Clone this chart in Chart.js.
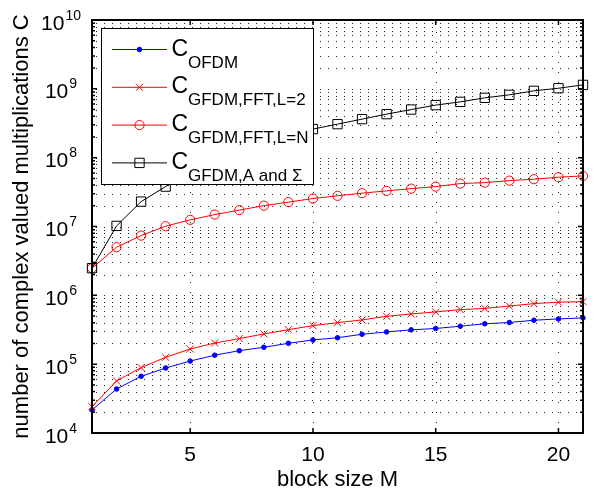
<!DOCTYPE html>
<html>
<head>
<meta charset="utf-8">
<script src="https://cdn.jsdelivr.net/npm/chart.js@4.4.1/dist/chart.umd.min.js"></script>
<style>
  html, body { margin: 0; padding: 0; background: #fff; }
</style>
</head>
<body>
<canvas id="c" width="596" height="490"></canvas>
<script>
// values
const blockSize = [1, 2, 3, 4, 5, 6, 7, 8, 9, 10, 11, 12, 13, 14, 15, 16, 17, 18, 19, 20, 21];
const cOfdm = [2.16e4, 4.36e4, 6.67e4, 8.8e4, 1.11e5, 1.35e5, 1.57e5, 1.76e5, 2.01e5, 2.25e5, 2.42e5,
  2.72e5, 2.94e5, 3.15e5, 3.3e5, 3.56e5, 3.86e5, 4.03e5, 4.35e5, 4.54e5, 4.7e5];
const cGfdmL2 = [2.41e4, 5.7e4, 8.9e4, 1.26e5, 1.66e5, 2.03e5, 2.35e5, 2.75e5, 3.17e5, 3.63e5, 4.01e5,
  4.39e5, 4.96e5, 5.37e5, 5.74e5, 6.2e5, 6.45e5, 7.0e5, 7.58e5, 7.95e5, 8.1e5];
const cGfdmLN = [2.48e6, 5.0e6, 7.38e6, 1.01e7, 1.25e7, 1.49e7, 1.73e7, 2.01e7, 2.26e7, 2.55e7, 2.79e7,
  3.05e7, 3.29e7, 3.55e7, 3.8e7, 4.2e7, 4.34e7, 4.64e7, 4.86e7, 5.2e7, 5.43e7];
const cGfdmA = [2.48e6, 1.02e7, 2.3e7, 3.8e7, 6.2e7, 9.0e7, 1.22e8, 1.6e8, 2.02e8, 2.6e8, 3.07e8,
  3.63e8, 4.29e8, 5.0e8, 5.8e8, 6.47e8, 7.4e8, 8.18e8, 9.35e8, 1.02e9, 1.14e9];

const xTicks = [5, 10, 15, 20];
const yTicks = [1e4, 1e5, 1e6, 1e7, 1e8, 1e9, 1e10];
const yExponents = ['4', '5', '6', '7', '8', '9', '10'];
const legendSubs = ['OFDM', 'GFDM,FFT,L=2', 'GFDM,FFT,L=N', 'GFDM,A and \u03A3'];

const FONT = '"Liberation Sans", Arial, Helvetica, sans-serif';

function pts(ys) {
  return blockSize.map((m, i) => ({ x: m, y: ys[i] }));
}

// grid, frame, ticks, labels, legend
const matlabAxes = {
  id: 'matlabAxes',
  beforeDatasetsDraw(chart) {
    const { ctx, chartArea: a, scales: { x, y } } = chart;
    ctx.save();
    ctx.strokeStyle = 'rgba(0,0,0,0.85)';
    ctx.lineWidth = 1;
    // horizontal log grid (decades + minors)
    ctx.setLineDash([1, 7]);
    for (let d = 0; d < yTicks.length - 1; d++) {
      for (let k = 1; k <= 9; k++) {
        const py = Math.round(y.getPixelForValue(yTicks[d] * k)) + 0.5;
        if (d === 0 && k === 1) continue;
        ctx.beginPath();
        ctx.moveTo(a.left + 4, py);
        ctx.lineTo(a.right, py);
        ctx.stroke();
      }
    }
    // vertical grid
    ctx.setLineDash([1, 9]);
    xTicks.forEach(v => {
      const px = Math.round(x.getPixelForValue(v)) + 0.5;
      ctx.beginPath();
      ctx.moveTo(px, a.bottom);
      ctx.lineTo(px, a.top);
      ctx.stroke();
    });
    ctx.restore();
  },
  afterDatasetsDraw(chart) {
    const { ctx, chartArea: a, scales: { x, y } } = chart;
    ctx.save();
    ctx.strokeStyle = '#000';
    // inward ticks
    ctx.lineWidth = 1.5;
    xTicks.forEach(v => {
      const px = x.getPixelForValue(v);
      ctx.beginPath();
      ctx.moveTo(px, a.bottom); ctx.lineTo(px, a.bottom - 5);
      ctx.moveTo(px, a.top); ctx.lineTo(px, a.top + 5);
      ctx.stroke();
    });
    for (let d = 0; d < yTicks.length; d++) {
      for (let k = 1; k <= 9; k++) {
        if (d === yTicks.length - 1 && k > 1) break;
        const py = y.getPixelForValue(yTicks[d] * k);
        const len = k === 1 ? 5 : 3;
        ctx.beginPath();
        ctx.moveTo(a.left, py); ctx.lineTo(a.left + len, py);
        ctx.moveTo(a.right, py); ctx.lineTo(a.right - len, py);
        ctx.stroke();
      }
    }
    // box
    ctx.lineWidth = 2;
    ctx.strokeRect(a.left, a.top, a.right - a.left, a.bottom - a.top);

    // tick labels
    ctx.fillStyle = '#000';
    ctx.textBaseline = 'alphabetic';
    ctx.textAlign = 'center';
    ctx.font = '21px ' + FONT;
    xTicks.forEach(v => {
      ctx.fillText(String(v), x.getPixelForValue(v), a.bottom + 28);
    });
    yTicks.forEach((v, i) => {
      const py = y.getPixelForValue(v);
      ctx.font = '21px ' + FONT;
      const wBase = ctx.measureText('10').width;
      ctx.font = '14px ' + FONT;
      const wExp = ctx.measureText(yExponents[i]).width;
      const left = 61 - (wBase + 1 + wExp) / 2;
      ctx.textAlign = 'left';
      ctx.font = '21px ' + FONT;
      ctx.fillText('10', left, py + 9.5);
      ctx.font = '14px ' + FONT;
      ctx.fillText(yExponents[i], left + wBase + 1, py - 0.5);
    });

    // axis titles
    ctx.font = '22px ' + FONT;
    ctx.textAlign = 'center';
    ctx.fillText('block size M', (a.left + a.right) / 2, 486);
    ctx.save();
    ctx.translate(27.5, (a.top + a.bottom) / 2);
    ctx.rotate(-Math.PI / 2);
    ctx.fillText('number of complex valued multiplications C', 0, 0);
    ctx.restore();

    // legend
    const bx = 101.5, by = 28.5, bw = 212, bh = 156;
    ctx.fillStyle = '#fff';
    ctx.fillRect(bx, by, bw, bh);
    ctx.lineWidth = 1;
    ctx.strokeStyle = '#000';
    ctx.strokeRect(bx, by, bw, bh);
    chart.data.datasets.forEach((ds, i) => {
      const ly = 49.5 + i * 37.8;
      ctx.strokeStyle = ds.borderColor;
      ctx.lineWidth = ds.borderWidth;
      ctx.beginPath();
      ctx.moveTo(112, ly);
      ctx.lineTo(167, ly);
      ctx.stroke();
      ctx.fillStyle = ds.pointBackgroundColor;
      ctx.strokeStyle = ds.pointBorderColor;
      ctx.lineWidth = ds.pointBorderWidth;
      Chart.helpers.drawPoint(ctx, {
        pointStyle: ds.pointStyle, radius: ds.pointRadius, rotation: 0, borderWidth: ds.pointBorderWidth
      }, 139.5, ly);
      ctx.fillStyle = '#000';
      ctx.textAlign = 'left';
      ctx.font = '23px ' + FONT;
      ctx.fillText('C', 171.5, ly + 6);
      ctx.font = '17px ' + FONT;
      ctx.fillText(legendSubs[i], 188, ly + 18);
    });
    ctx.restore();
  }
};

new Chart(document.getElementById('c'), {
  type: 'line',
  data: {
    datasets: [{
      label: 'C_OFDM',
      data: pts(cOfdm),
      borderColor: '#0000ff',
      borderWidth: 1,
      pointStyle: 'circle',
      pointRadius: 2.3,
      pointBackgroundColor: '#0000ff',
      pointBorderColor: '#0000ff',
      pointBorderWidth: 1,
      order: 4
    }, {
      label: 'C_GFDM,FFT,L=2',
      data: pts(cGfdmL2),
      borderColor: '#ff0000',
      borderWidth: 1,
      pointStyle: 'crossRot',
      pointRadius: 5,
      pointBackgroundColor: 'rgba(0,0,0,0)',
      pointBorderColor: '#ff0000',
      pointBorderWidth: 1,
      order: 3
    }, {
      label: 'C_GFDM,FFT,L=N',
      data: pts(cGfdmLN),
      borderColor: '#ff0000',
      borderWidth: 1,
      pointStyle: 'circle',
      pointRadius: 4.6,
      pointBackgroundColor: 'rgba(0,0,0,0)',
      pointBorderColor: '#ff0000',
      pointBorderWidth: 1,
      order: 2
    }, {
      label: 'C_GFDM,A and \u03A3',
      data: pts(cGfdmA),
      borderColor: '#000000',
      borderWidth: 1,
      pointStyle: 'rect',
      pointRadius: 6.6,
      pointBackgroundColor: 'rgba(0,0,0,0)',
      pointBorderColor: '#000000',
      pointBorderWidth: 1,
      order: 1
    }]
  },
  options: {
    responsive: false,
    animation: false,
    clip: false,
    layout: { padding: { top: 20, right: 13, left: 0, bottom: 0 } },
    elements: { line: { tension: 0 } },
    plugins: { legend: { display: false }, tooltip: { enabled: false } },
    scales: {
      x: {
        type: 'linear', min: 1, max: 21,
        ticks: { display: false },
        grid: { display: false },
        border: { display: false },
        afterFit: s => { s.height = 57; }
      },
      y: {
        type: 'logarithmic', min: 1e4, max: 1e10,
        ticks: { display: false },
        grid: { display: false },
        border: { display: false },
        afterFit: s => { s.width = 92; }
      }
    }
  },
  plugins: [matlabAxes]
});
</script>
</body>
</html>
